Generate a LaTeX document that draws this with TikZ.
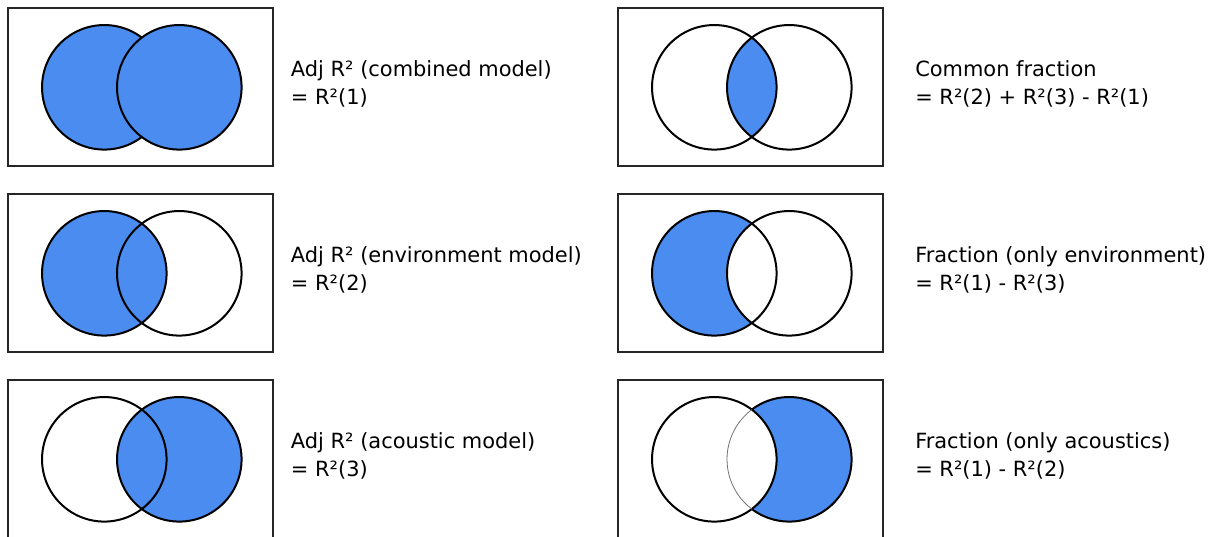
\documentclass[tikz,border=0pt]{standalone}
\usepackage{fontspec}
\setmainfont{DejaVu Sans}

\definecolor{vennblue}{RGB}{74,140,240}
\newcommand{\rad}{46.7pt}

\tikzset{
  panel/.style={draw=black!85, line width=1.3pt},
  ring/.style={draw=black, line width=1.5pt},
  thinring/.style={draw=black!55, line width=0.6pt},
  caption/.style={anchor=base west, inner sep=0pt, font=\fontsize{15.7}{21}\selectfont},
}

\begin{document}
\begin{tikzpicture}[x=0.75pt, y=-0.75pt]

\useasboundingbox (0,0) rectangle (1214,536);

% -----------------------
% Combined model
% -----------------------
\begin{scope}[shift={(8.3,8.3)}]
\coordinate (L) at (96,79);
\coordinate (R) at (171,79);
\draw[panel] (0,0) rectangle (264.5,157.5);
\fill[vennblue] (L) circle[radius=\rad];
\draw[ring] (L) circle[radius=\rad];
\fill[vennblue] (R) circle[radius=\rad];
\draw[ring] (R) circle[radius=\rad];
\node[caption] (combA) at (282.4,68.4) {Adj R² (combined model)};
\node[caption] (combB) at (282.4,96.4) {= R²(1)};
\end{scope}

% -----------------------
% Environment model
% -----------------------
\begin{scope}[shift={(8.3,194.3)}]
\coordinate (L) at (96,79);
\coordinate (R) at (171,79);
\draw[panel] (0,0) rectangle (264.5,157.5);
\fill[vennblue] (L) circle[radius=\rad];
\draw[ring] (L) circle[radius=\rad];
\draw[ring] (R) circle[radius=\rad];
\node[caption] (envA) at (282.4,68.4) {Adj R² (environment model)};
\node[caption] (envB) at (282.4,96.4) {= R²(2)};
\end{scope}

% -----------------------
% Acoustic model
% -----------------------
\begin{scope}[shift={(8.3,380.3)}]
\coordinate (L) at (96,79);
\coordinate (R) at (171,79);
\draw[panel] (0,0) rectangle (264.5,157.5);
\fill[vennblue] (R) circle[radius=\rad];
\draw[ring] (L) circle[radius=\rad];
\draw[ring] (R) circle[radius=\rad];
\node[caption] (acoA) at (282.4,68.4) {Adj R² (acoustic model)};
\node[caption] (acoB) at (282.4,96.4) {= R²(3)};
\end{scope}

% -----------------------
% Common fraction
% -----------------------
\begin{scope}[shift={(618.3,8.3)}]
\coordinate (L) at (96,79);
\coordinate (R) at (171,79);
\draw[panel] (0,0) rectangle (264.5,157.5);
\begin{scope}
  \clip (L) circle[radius=\rad];
  \fill[vennblue] (R) circle[radius=\rad];
\end{scope}
\draw[ring] (L) circle[radius=\rad];
\draw[ring] (R) circle[radius=\rad];
\node[caption] (comA) at (296.7,68.4) {Common fraction};
\node[caption] (comB) at (296.7,96.4) {= R²(2) + R²(3) - R²(1)};
\end{scope}

% -----------------------
% Only environment
% -----------------------
\begin{scope}[shift={(618.3,194.3)}]
\coordinate (L) at (96,79);
\coordinate (R) at (171,79);
\draw[panel] (0,0) rectangle (264.5,157.5);
\fill[vennblue] (L) circle[radius=\rad];
\fill[white] (R) circle[radius=\rad];
\draw[ring] (L) circle[radius=\rad];
\draw[ring] (R) circle[radius=\rad];
\node[caption] (onlyEnvA) at (296.7,68.4) {Fraction (only environment)};
\node[caption] (onlyEnvB) at (296.7,96.4) {= R²(1) - R²(3)};
\end{scope}

% -----------------------
% Only acoustics
% -----------------------
\begin{scope}[shift={(618.3,380.3)}]
\coordinate (L) at (96,79);
\coordinate (R) at (171,79);
\draw[panel] (0,0) rectangle (264.5,157.5);
\fill[vennblue] (R) circle[radius=\rad];
\draw[ring] (R) circle[radius=\rad];
\fill[white] (L) circle[radius=\rad];
\draw[ring] (L) circle[radius=\rad];
\begin{scope}
  \clip (L) circle[radius=\rad];
  \draw[thinring] (R) circle[radius=\rad];
\end{scope}
\node[caption] (onlyAcoA) at (296.7,68.4) {Fraction (only acoustics)};
\node[caption] (onlyAcoB) at (296.7,96.4) {= R²(1) - R²(2)};
\end{scope}

\end{tikzpicture}
\end{document}
